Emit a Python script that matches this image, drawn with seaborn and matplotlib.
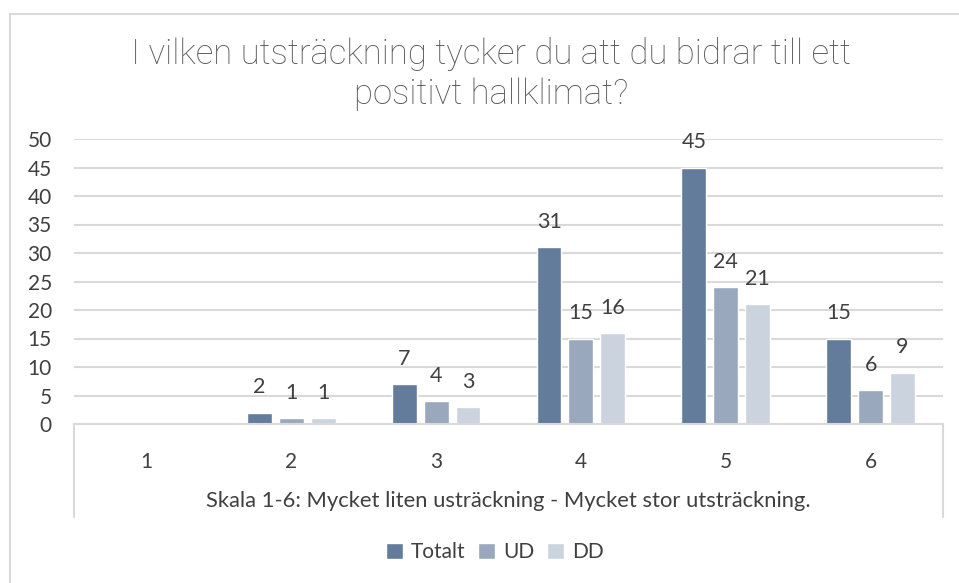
import matplotlib.pyplot as plt
import numpy as np
import pandas as pd
import seaborn as sns

# Data
kategorier = ['1', '2', '3', '4', '5', '6']
totalt = [np.nan, 2, 7, 31, 45, 15]
ud = [np.nan, 1, 4, 15, 24, 6]
dd = [np.nan, 1, 3, 16, 21, 9]
serier = ['Totalt', 'UD', 'DD']
farger = ['#637C9C', '#9AA8BE', '#CBD3DE']

df = pd.DataFrame({
    'kategori': kategorier * 3,
    'serie': [s for s in serier for _ in kategorier],
    'antal': totalt + ud + dd,
})

sns.set_style('white')
plt.rcParams['font.family'] = ['Lato', 'DejaVu Sans']

fig = plt.figure(figsize=(9.59, 5.83), dpi=100)
ax = fig.add_axes([74 / 959, 1 - 424 / 583, (943 - 74) / 959, (424 - 139) / 583])

sns.barplot(data=df, x='kategori', y='antal', hue='serie', palette=farger,
            width=0.66, gap=0.22, ax=ax, saturation=1)

for c in ax.containers:
    ax.bar_label(c, padding=11, fontsize=15.5, color='#404040')

ax.set_ylim(0, 50)
ax.set_yticks(range(0, 51, 5))
ax.set_xlim(-0.5, 5.5)
ax.grid(axis='y', color='#D9D9D9', linewidth=1.5)
ax.set_axisbelow(True)
for s in ['top', 'right', 'left']:
    ax.spines[s].set_visible(False)
ax.spines['bottom'].set_color('#D9D9D9')
ax.spines['bottom'].set_linewidth(1.5)
ax.tick_params(axis='both', length=0, labelsize=15, labelcolor='#404040')
ax.tick_params(axis='x', pad=20)
ax.tick_params(axis='y', pad=16)
ax.set_ylabel('')
ax.set_xlabel('Skala 1-6: Mycket liten usträckning - Mycket stor utsträckning.',
              fontsize=15.8, color='#404040', labelpad=14)

# kantlinjer för kategoriaxeln
for xx in [0, 1]:
    ax.plot([xx, xx], [0, -93 / 285], transform=ax.transAxes, color='#D9D9D9',
            linewidth=1.5, clip_on=False)

fig.text(491 / 959, 1 - 74 / 583,
         'I vilken utsträckning tycker du att du bidrar till ett\npositivt hallklimat?',
         ha='center', va='center', fontsize=25, color='#595959',
         family=['Roboto', 'Lato'], fontweight='light', linespacing=1.22)

handles, labels = ax.get_legend_handles_labels()
ax.legend(handles, labels, loc='center', bbox_to_anchor=(495 / 959, 1 - 552 / 583),
          bbox_transform=fig.transFigure, ncol=3, frameon=False, fontsize=15,
          handlelength=0.8, handleheight=0.8, handletextpad=0.4, columnspacing=0.6,
          labelcolor='#404040')

# diagramram
fig.add_artist(plt.Line2D([10 / 959, 1], [1 - 14 / 583, 1 - 14 / 583],
                          color='#D9D9D9', linewidth=1.5))
fig.add_artist(plt.Line2D([10 / 959, 10 / 959], [0, 1 - 14 / 583],
                          color='#D9D9D9', linewidth=1.5))

fig.savefig('out.png', dpi=100)
